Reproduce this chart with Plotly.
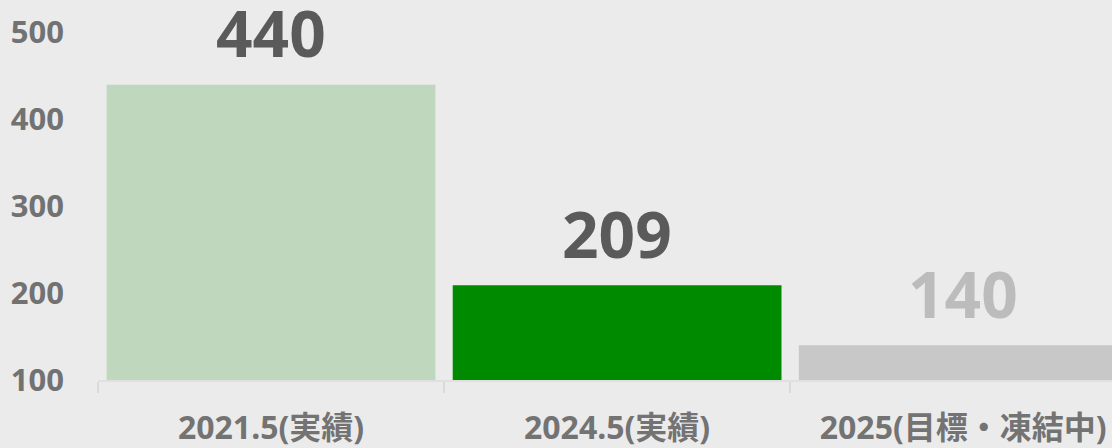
import plotly.graph_objects as go

categories = ["2021.5(実績)", "2024.5(実績)", "2025(目標・凍結中)"]
values = [440, 209, 140]
bar_colors = ["#bfd7bd", "#008a00", "#c8c8c8"]
label_colors = ["#5a5a5a", "#5a5a5a", "#bcbcbc"]
y_ticks = [100, 200, 300, 400, 500]

FONT = "Noto Sans, Open Sans, Noto Sans CJK JP, sans-serif"

fig = go.Figure()
fig.add_trace(go.Bar(
    x=categories, y=values,
    marker=dict(color=bar_colors, line=dict(width=0)),
    width=0.95,
    hoverinfo="skip",
))

for c, v, col in zip(categories, values, label_colors):
    fig.add_annotation(
        x=c, y=v, text=str(v), showarrow=False,
        yanchor="middle", yshift=52,
        font=dict(family=FONT, size=64, color=col, weight="bold"),
    )

fig.update_layout(
    width=1112, height=448,
    margin=dict(l=98, r=0, t=0, b=63),
    paper_bgcolor="#ebebeb", plot_bgcolor="#ebebeb",
    showlegend=False,
    bargap=0.05,
    xaxis=dict(
        range=[-0.5, 2.43],
        showgrid=False, zeroline=False,
        showline=True, linecolor="#e0e0e0", linewidth=2,
        ticks="outside", tickson="boundaries", ticklen=11, tickwidth=2, tickcolor="#dadada",
        tickfont=dict(family=FONT, size=32, color="#737373", weight="bold"),
        ticklabelstandoff=19,
    ),
    yaxis=dict(
        range=[100, 537.5],
        tickvals=y_ticks,
        showgrid=False, zeroline=False, showline=False,
        tickfont=dict(family=FONT, size=31, color="#727272", weight="bold"),
        ticklabelstandoff=33,
    ),
)

fig.write_html(
    "out.html",
    config={"displayModeBar": False},
    post_script="document.body.style.margin='0';document.body.style.background='#ebebeb';document.body.style.overflow='hidden';",
)
